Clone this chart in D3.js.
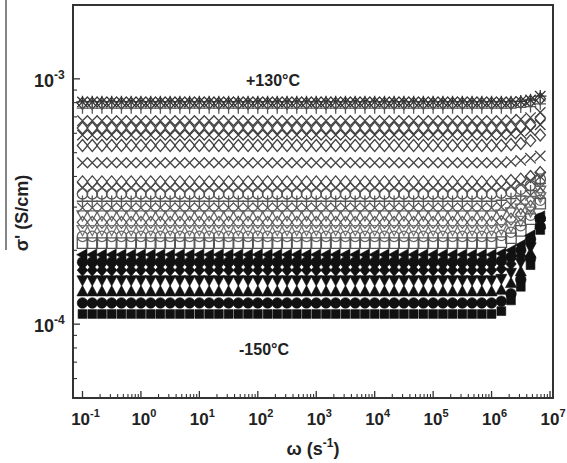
<!DOCTYPE html>
<html><head><meta charset="utf-8">
<script src="https://cdn.jsdelivr.net/npm/d3@7/dist/d3.min.js"></script>
<style>
html,body{margin:0;padding:0;background:#fff;}
svg text{font-family:"Liberation Sans",Arial,sans-serif;font-weight:bold;fill:#222;}
</style></head>
<body>
<svg id="chart" width="567" height="463"></svg>
<script>
// ---- data ----
const freqs = [0.1,0.147,0.215,0.316,0.464,0.681,
  1,1.47,2.15,3.16,4.64,6.81,
  10,14.7,21.5,31.6,46.4,68.1,
  100,147,215,316,464,681,
  1000,1470,2150,3160,4640,6810,
  1e4,1.47e4,2.15e4,3.16e4,4.64e4,6.81e4,
  1e5,1.47e5,2.15e5,3.16e5,4.64e5,6.81e5,
  1e6,1.47e6,2.15e6,3.16e6,4.64e6,6.81e6];

// plateau conductivity of each curve (S/cm), from highest temperature to lowest
const plateau = [8.05e-4,7.95e-4,7.6e-4,6.75e-4,6.3e-4,5.9e-4,5.35e-4,4.55e-4,
  3.8e-4,3.6e-4,3.4e-4,3.17e-4,2.98e-4,2.78e-4,2.6e-4,2.42e-4,2.28e-4,2.14e-4,
  1.92e-4,1.79e-4,1.66e-4,1.51e-4,1.36e-4,1.22e-4,1.10e-4];

// last six points of each curve (high-frequency dispersion), ×1e-4 S/cm
const tails = [
  [8.05,8.05,8.05,8.1,8.2,8.5],
  [7.95,7.95,7.95,8.0,8.1,8.3],
  [7.6,7.6,7.6,7.65,7.7,7.9],
  [6.75,6.75,6.8,6.85,6.95,7.3],
  [6.3,6.3,6.35,6.4,6.5,6.9],
  [5.9,5.9,5.95,6.0,6.15,6.5],
  [5.35,5.35,5.4,5.45,5.6,5.9],
  [4.55,4.55,4.6,4.65,4.75,4.85],
  [3.8,3.82,3.85,3.9,4.0,4.15],
  [3.6,3.62,3.65,3.72,3.85,4.0],
  [3.4,3.42,3.46,3.55,3.68,3.9],
  [3.17,3.2,3.25,3.33,3.5,3.75],
  [2.98,3.0,3.06,3.15,3.35,3.6],
  [2.78,2.8,2.86,2.96,3.18,3.5],
  [2.6,2.62,2.68,2.8,3.02,3.4],
  [2.42,2.44,2.5,2.64,2.88,3.3],
  [2.28,2.3,2.37,2.52,2.78,3.2],
  [2.14,2.16,2.24,2.4,2.68,3.1],
  [1.92,1.94,2.0,2.1,2.3,2.75],
  [1.79,1.81,1.88,2.0,2.22,2.7],
  [1.66,1.68,1.76,1.9,2.15,2.65],
  [1.51,1.53,1.62,1.78,2.05,2.6],
  [1.36,1.38,1.47,1.64,1.95,2.55],
  [1.22,1.24,1.33,1.52,1.85,2.5],
  [1.10,1.13,1.25,1.42,1.74,2.42]
];

const xTickExp = [-1,0,1,2,3,4,5,6,7];
const yTickExp = [-3,-4];
const annotations = ["+130°C","-150°C"];

// ---- styles (marker, colour, filled) per curve ----
const markerStyle = [
  ["asterisk","#333",false],["diamond","#333",false],["plus","#555",false],
  ["x","#444",false],["diamond","#444",false],["x","#3a3a3a",false],["diamond","#444",false],["x","#444",false],
  ["diamond","#444",false],["x","#4a4a4a",false],["circle","#555",false],["plus","#555",false],
  ["x","#555",false],["triDown","#666",false],["diamond","#5a5a5a",false],["triDown","#777",false],
  ["circle","#666",false],["square","#555",false],
  ["triLeft","#111",true],["circle","#111",true],["diamond","#111",true],["triDown","#111",true],
  ["triUp","#111",true],["circle","#111",true],["square","#111",true]
];

// ---- layout ----
const L=73,R=553,T=5,B=398;
const svg = d3.select("#chart");
const x = d3.scaleLog().domain([0.0688,1.125e7]).range([L,R]);
const y = d3.scaleLog().domain([5e-5,2e-3]).range([B,T]);

// build curves
const curves = plateau.map((p,i)=>{
  const n = freqs.length, t = tails[i];
  return freqs.map((f,j)=>({f, v: j < n-6 ? p : t[j-(n-6)]*1e-4}));
});

// marker shapes
function shapePath(type,r){
  const p = d3.path();
  switch(type){
    case "square": p.rect(-r,-r,2*r,2*r); break;
    case "circle": p.moveTo(r,0); p.arc(0,0,r,0,2*Math.PI); break;
    case "diamond": p.moveTo(0,-r*1.15);p.lineTo(r*1.0,0);p.lineTo(0,r*1.15);p.lineTo(-r*1.0,0);p.closePath(); break;
    case "triUp": p.moveTo(0,-r*1.1);p.lineTo(r*1.05,r*0.85);p.lineTo(-r*1.05,r*0.85);p.closePath(); break;
    case "triDown": p.moveTo(0,r*1.1);p.lineTo(r*1.05,-r*0.85);p.lineTo(-r*1.05,-r*0.85);p.closePath(); break;
    case "triLeft": p.moveTo(-r*1.1,0);p.lineTo(r*0.85,-r*1.05);p.lineTo(r*0.85,r*1.05);p.closePath(); break;
    case "x": p.moveTo(-r,-r);p.lineTo(r,r);p.moveTo(r,-r);p.lineTo(-r,r); break;
    case "plus": p.moveTo(-r*1.1,0);p.lineTo(r*1.1,0);p.moveTo(0,-r*1.1);p.lineTo(0,r*1.1); break;
    case "asterisk": p.moveTo(-r,-r);p.lineTo(r,r);p.moveTo(r,-r);p.lineTo(-r,r);p.moveTo(-r*1.2,0);p.lineTo(r*1.2,0);p.moveTo(0,-r*1.2);p.lineTo(0,r*1.2); break;
  }
  return p.toString();
}

const plot = svg.append("g");
curves.forEach((c,i)=>{
  const [type,col,filled] = markerStyle[i];
  const r = filled ? (type==="square"?4.4:5.3) : 5.2;
  const d = shapePath(type, r);
  plot.append("g").selectAll("path").data(c).join("path")
    .attr("transform",dd=>`translate(${x(dd.f)},${y(dd.v)})`)
    .attr("d",d)
    .attr("fill", filled? col : "none")
    .attr("stroke", col)
    .attr("stroke-width", filled?0.6:1.3);
});

// frame
svg.append("rect").attr("x",L).attr("y",T).attr("width",R-L).attr("height",B-T)
  .attr("fill","none").attr("stroke","#333").attr("stroke-width",2);

// x ticks (inward)
const xMajor = xTickExp.map(e=>Math.pow(10,e));
const xMinor = [];
xTickExp.slice(0,-1).forEach(e=>{for(let m=2;m<=9;m++) xMinor.push(m*Math.pow(10,e));});
svg.append("g").selectAll("line").data(xMajor).join("line")
  .attr("x1",d=>x(d)).attr("x2",d=>x(d)).attr("y1",B).attr("y2",B-7)
  .attr("stroke","#333").attr("stroke-width",1.3);
svg.append("g").selectAll("line").data(xMinor).join("line")
  .attr("x1",d=>x(d)).attr("x2",d=>x(d)).attr("y1",B).attr("y2",B-4)
  .attr("stroke","#333").attr("stroke-width",1.1);

// y ticks (inward)
const yMajor = yTickExp.map(e=>Math.pow(10,e));
const yMinor = [5e-5,6e-5,7e-5,8e-5,9e-5];
for(let m=2;m<=9;m++) yMinor.push(m*1e-4);
yMinor.push(2e-3);
svg.append("g").selectAll("line").data(yMajor).join("line")
  .attr("x1",L).attr("x2",L+7).attr("y1",d=>y(d)).attr("y2",d=>y(d))
  .attr("stroke","#333").attr("stroke-width",1.3);
svg.append("g").selectAll("line").data(yMinor).join("line")
  .attr("x1",L).attr("x2",L+4).attr("y1",d=>y(d)).attr("y2",d=>y(d))
  .attr("stroke","#333").attr("stroke-width",1.1);

// x tick labels
const xl = svg.append("g").selectAll("text").data(xTickExp).join("text")
  .attr("x",d=>x(Math.pow(10,d))+3).attr("y",425).attr("text-anchor","middle")
  .attr("font-size",17);
xl.append("tspan").text("10");
xl.append("tspan").attr("font-size",11).attr("dy",-8).text(d=>d);

// y tick labels
const yl = svg.append("g").selectAll("text").data(yTickExp).join("text")
  .attr("x",34).attr("y",d=>y(Math.pow(10,d))+8).attr("font-size",18);
yl.append("tspan").text("10");
yl.append("tspan").attr("font-size",12).attr("dy",-8).text(d=>d);

// axis titles
const xt = svg.append("text").attr("x",313).attr("y",455).attr("text-anchor","middle").attr("font-size",18);
xt.append("tspan").text("ω (s");
xt.append("tspan").attr("font-size",12).attr("dy",-8).text("-1");
xt.append("tspan").attr("dy",8).text(")");

svg.append("text").attr("transform","translate(28,213) rotate(-90)").attr("text-anchor","middle")
  .attr("font-size",18).text("σ' (S/cm)");
svg.append("line").attr("x1",6).attr("x2",6).attr("y1",0).attr("y2",250).attr("stroke","#333").attr("stroke-width",1.2);

// annotations
svg.append("text").attr("x",273).attr("y",86).attr("text-anchor","middle").attr("font-size",16).text(annotations[0]);
svg.append("text").attr("x",264).attr("y",355).attr("text-anchor","middle").attr("font-size",16).text(annotations[1]);
</script>
</body></html>
